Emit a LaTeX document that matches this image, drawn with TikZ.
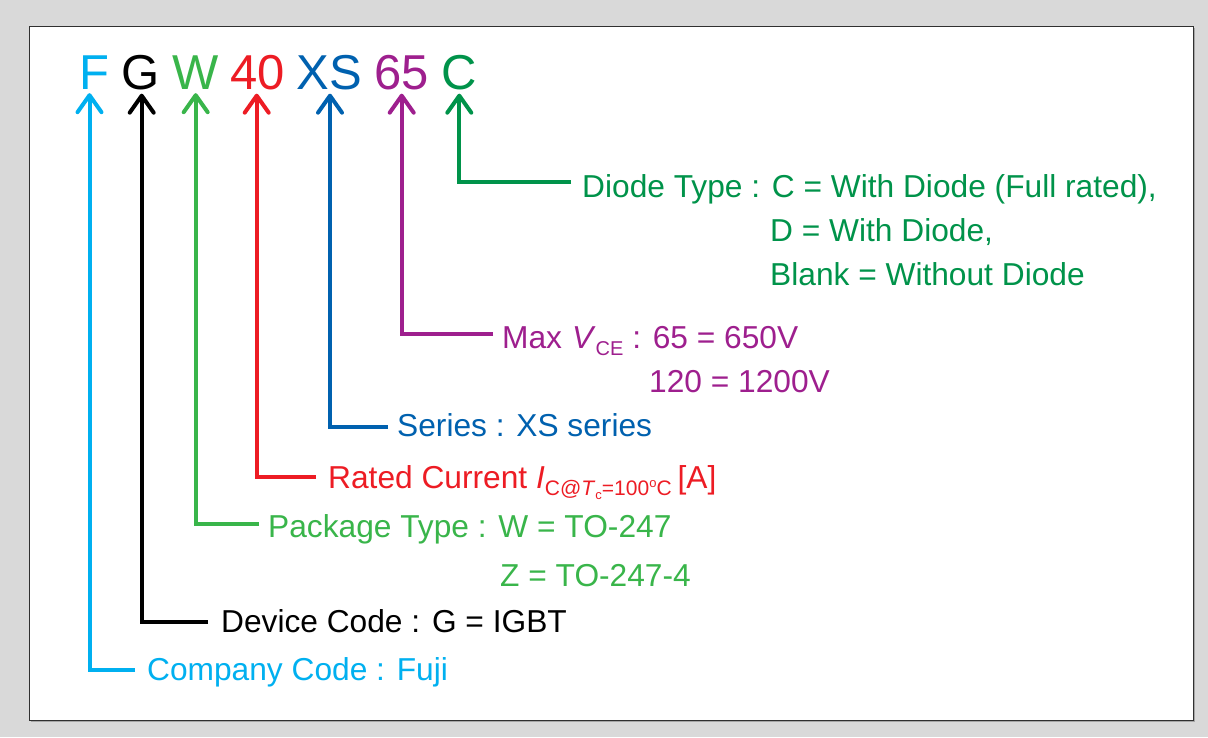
\documentclass[tikz,border=0pt]{standalone}
\usepackage{fontspec}
\setmainfont{Liberation Sans}
\usetikzlibrary{arrows.meta}
\definecolor{cF}{HTML}{00B0F0}
\definecolor{cG}{HTML}{000000}
\definecolor{cW}{HTML}{39B54A}
\definecolor{cN40}{HTML}{ED1C24}
\definecolor{cXS}{HTML}{0061AF}
\definecolor{cN65}{HTML}{9E1F8E}
\definecolor{cC}{HTML}{00934A}
\definecolor{cBg}{HTML}{D9D9D9}
\definecolor{cShadow}{HTML}{A6A6A6}
\definecolor{cFrame}{HTML}{303030}
\begin{document}
\begin{tikzpicture}[x=1pt,y=-1pt,
  big/.style={inner sep=0pt, anchor=base, font=\fontsize{49}{60}\selectfont},
  lbl/.style={inner sep=0pt, anchor=base west, font=\fontsize{31.7}{38}\selectfont},
  conn/.style={line width=4pt, -{Straight Barb[length=17pt,width=24pt,round]}}]
\useasboundingbox (0,0) rectangle (1208,737);
\fill[cBg] (0,0) rectangle (1208,737);
\fill[cShadow] (31,28) rectangle (1195,722);
\draw[fill=white, draw=cFrame, line width=1pt] (29,26) rectangle (1193,720);

% code letters
\node[big, text=cF]   (F)   at (94,89)    {F};
\node[big, text=cG]   (G)   at (140.5,89) {G};
\node[big, text=cW]   (W)   at (195.5,89) {W};
\node[big, text=cN40] (N40) at (257.5,89) {40};
\node[big, text=cXS]  (XS)  at (329,89)   {XS};
\node[big, text=cN65] (N65) at (402,89)   {65};
\node[big, text=cC]   (C)   at (459.5,89) {C};

% labels
\node[lbl, text=cC] (lC)  at (582,197)   {Diode Type : C = With Diode (Full rated),};
\node[lbl, text=cC] (lC2) at (770,241.5) {D = With Diode,};
\node[lbl, text=cC] (lC3) at (770,285.5) {Blank = Without Diode};

\node[lbl, text=cN65] (l65)  at (502,348.5) {Max\hspace{10pt}\textit{V}\raisebox{-7pt}{\fontsize{20}{20}\selectfont CE} : 65 = 650V};
\node[lbl, text=cN65] (l65b) at (649,392)   {120 = 1200V};

\node[lbl, text=cXS] (lXS) at (397,436) {Series : XS series};

\node[lbl, text=cN40] (l40) at (328,488) {Rated Current \textit{I}\raisebox{-7pt}{\fontsize{21}{21}\selectfont C@\textit{T}\raisebox{-4pt}{\fontsize{13}{13}\selectfont c}=100\raisebox{8pt}{\fontsize{13}{13}\selectfont o}C}\hspace{6pt}[A]};

\node[lbl, text=cW] (lW)  at (268,537) {Package Type : W = TO-247};
\node[lbl, text=cW] (lW2) at (500,586) {Z = TO-247-4};

\node[lbl, text=cG] (lG) at (221,632) {Device Code : G = IGBT};

\node[lbl, text=cF] (lF) at (147,680) {Company Code : Fuji};

% connectors
\draw[conn, cC]   ([xshift=-11pt,yshift=15pt]lC.base west)  -| ([xshift=-0.2pt,yshift=-4pt]C.south);
\draw[conn, cN65] ([xshift=-9pt,yshift=14.5pt]l65.base west) -| ([xshift=-0.3pt,yshift=-4pt]N65.south);
\draw[conn, cXS]  ([xshift=-9pt,yshift=9pt]lXS.base west)   -| ([xshift=1pt,yshift=-4pt]XS.south);
\draw[conn, cN40] ([xshift=-12pt,yshift=11pt]l40.base west) -| ([xshift=-0.8pt,yshift=-4pt]N40.south);
\draw[conn, cW]   ([xshift=-9pt,yshift=13pt]lW.base west)   -| ([xshift=0.2pt,yshift=-4pt]W.south);
\draw[conn, cG]   ([xshift=-13pt,yshift=10pt]lG.base west)  -| ([xshift=1.2pt,yshift=-4pt]G.south);
\draw[conn, cF]   ([xshift=-12pt,yshift=10pt]lF.base west)  -| ([xshift=-4.5pt,yshift=-4pt]F.south);
\end{tikzpicture}
\end{document}
